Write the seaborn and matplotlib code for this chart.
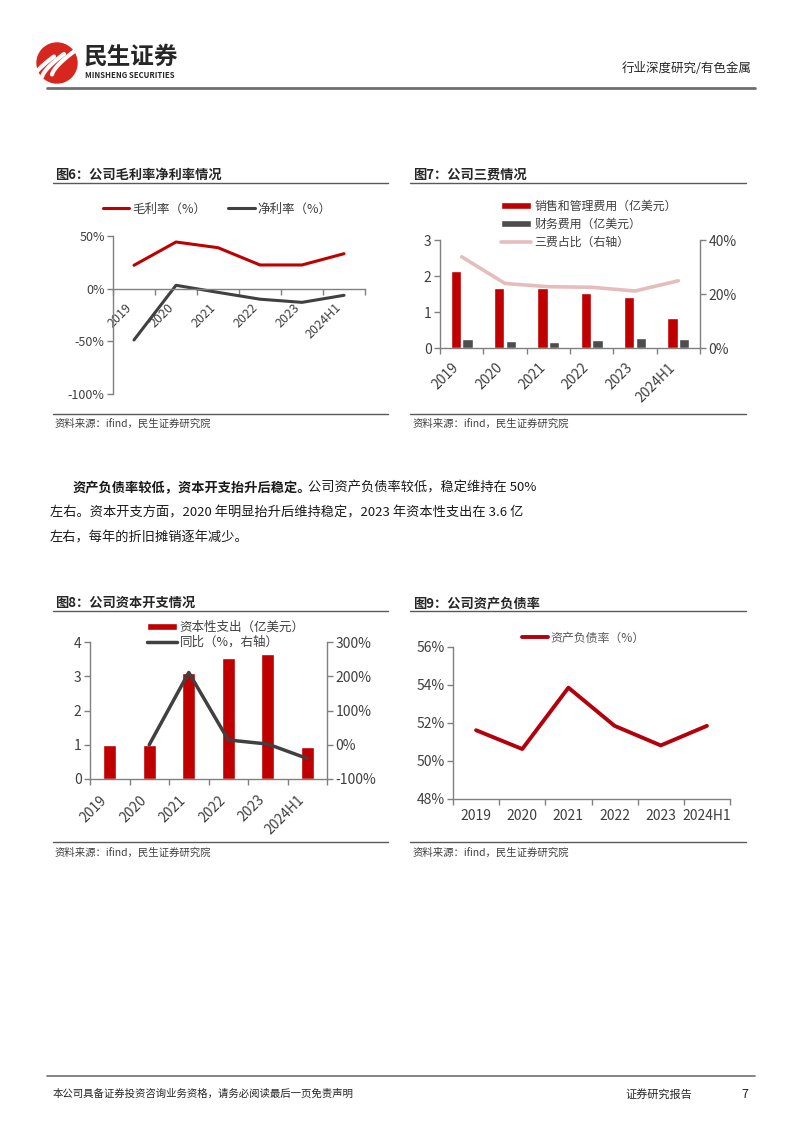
import numpy as np
import pandas as pd
import matplotlib
matplotlib.use("Agg")
import matplotlib.pyplot as plt
import seaborn as sns
from matplotlib.patches import Circle
from matplotlib.lines import Line2D

sns.set_theme(style="ticks")
plt.rcParams["font.family"] = ["Noto Sans CJK SC", "DejaVu Sans"]
plt.rcParams["axes.unicode_minus"] = False

years = ["2019", "2020", "2021", "2022", "2023", "2024H1"]

# fig 6: margins, %
gross_margin = [22.2, 44.3, 38.9, 22.5, 22.5, 33.2]
net_margin = [-48.7, 3.2, -3.5, -10.0, -13.0, -6.3]

# fig 7: expenses, 100m USD / ratio %
sga_cost = [2.15, 1.66, 1.66, 1.52, 1.43, 0.82]
fin_cost = [0.24, 0.20, 0.17, 0.23, 0.29, 0.25]
cost_ratio = [33.8, 23.9, 22.7, 22.5, 21.1, 24.9]

# fig 8: capex, 100m USD / yoy %
capex = [1.00, 1.00, 3.10, 3.53, 3.66, 0.93]
capex_yoy = [np.nan, 0.0, 211.0, 14.0, 2.0, -40.0]

# fig 9: debt ratio %
debt_ratio = [51.62, 50.63, 53.86, 51.85, 50.82, 51.85]

RED = "#C00000"
DRED = "#B3000C"
DGRAY = "#404040"
PINK = "#E6BDBD"
SPINE = "#808080"
TXT = "#404040"

W, H = 802, 1133
fig = plt.figure(figsize=(W / 100, H / 100), dpi=100, facecolor="white")


def px_axes(x0, y0, x1, y1):
    return fig.add_axes([x0 / W, 1 - y1 / H, (x1 - x0) / W, (y1 - y0) / H])


def ftext(x, y, s, **kw):
    kw.setdefault("va", "center")
    return fig.text(x / W, 1 - y / H, s, **kw)


def hline(x0, x1, y, color="#7f7f7f", lw=1.0):
    fig.add_artist(Line2D([x0 / W, x1 / W], [1 - y / H, 1 - y / H],
                          transform=fig.transFigure, color=color, lw=lw))


def style_ax(ax, fs=9):
    for s in ["top", "right"]:
        ax.spines[s].set_visible(False)
    for s in ["left", "bottom"]:
        ax.spines[s].set_color(SPINE)
        ax.spines[s].set_linewidth(1)
    ax.set_xlabel("")
    ax.set_ylabel("")
    ax.tick_params(axis="y", length=4, width=1, color=SPINE, labelsize=fs,
                   labelcolor=TXT, pad=2)
    ax.tick_params(axis="x", which="major", length=0, labelsize=fs,
                   labelcolor=TXT)
    ax.set_xticks(np.arange(-0.5, len(years), 1), minor=True)
    ax.tick_params(axis="x", which="minor", length=4, width=1, color=SPINE)
    ax.set_xlim(-0.5, len(years) - 0.5)
    ax.set_facecolor("none")


def style_twin(ax, fs=9):
    for s in ["top", "left", "bottom"]:
        ax.spines[s].set_visible(False)
    ax.spines["right"].set_color(SPINE)
    ax.spines["right"].set_linewidth(1)
    ax.set_ylabel("")
    ax.tick_params(axis="y", length=4, width=1, color=SPINE, labelsize=fs,
                   labelcolor=TXT, pad=2)


pos = np.arange(len(years))

# ---------------- header ----------------
logo = px_axes(36, 42, 78, 84)
logo.set_xlim(-1.05, 1.05)
logo.set_ylim(-1.05, 1.05)
logo.set_aspect("equal")
logo.axis("off")
logo.add_patch(Circle((0, 0), 1, color="#D7261E", clip_on=False))
t = np.linspace(0, 1, 30)
for off in [-0.5, 0.0, 0.5]:
    xs = -0.75 + off + 1.1 * t
    ys = -0.7 + 1.15 * t ** 0.7 + off * 0.25
    logo.plot(xs, ys, color="white", lw=3.0, solid_capstyle="round", clip_on=True)
ftext(84, 57, "民生证券", fontsize=17, weight="bold", color="#262626")
ftext(85, 75, "MINSHENG SECURITIES", fontsize=5.6, weight="bold", color="#262626")
ftext(752, 68, "行业深度研究/有色金属", fontsize=9, color="#262626", ha="right")
hline(47, 755, 88, color="#6f6f6f", lw=2)

# ---------------- fig 6 ----------------
ftext(55, 175, "图6：公司毛利率净利率情况", fontsize=9.5, weight="bold", color="#262626")
hline(53, 388, 183, color="#595959")
ax6 = px_axes(113, 236, 365, 394)
sns.lineplot(x=pos, y=gross_margin, color=RED, lw=2.2, ax=ax6)
sns.lineplot(x=pos, y=net_margin, color=DGRAY, lw=2.2, ax=ax6)
style_ax(ax6, fs=9)
ax6.set_ylim(-100, 50)
ax6.spines["bottom"].set_position(("data", 0))
ax6.set_yticks([-100, -50, 0, 50])
ax6.set_yticklabels([f"{v}%" for v in [-100, -50, 0, 50]])
ax6.set_xticks(pos)
ax6.set_xticklabels(years, rotation=45, ha="right")
ax6.tick_params(axis="x", which="major", pad=9)
l6 = ax6.get_lines()
ax6.legend([l6[0], l6[1]], ["毛利率（%）", "净利率（%）"], loc="center",
           bbox_to_anchor=(217 / W, 1 - 209 / H), bbox_transform=fig.transFigure,
           ncol=2, frameon=False, fontsize=9, handlelength=2.1,
           columnspacing=1.8, handletextpad=0.2, labelcolor=TXT)
hline(53, 388, 414, color="#595959")
ftext(55, 424, "资料来源：ifind，民生证券研究院", fontsize=7.5, color=TXT)

# ---------------- fig 7 ----------------
ftext(413, 175, "图7：公司三费情况", fontsize=9.5, weight="bold", color="#262626")
hline(410, 746, 183, color="#595959")
ax7 = px_axes(440, 240, 700, 348)
df7 = pd.DataFrame({
    "year": years * 2,
    "value": sga_cost + fin_cost,
    "kind": ["销售和管理费用（亿美元）"] * len(years) + ["财务费用（亿美元）"] * len(years),
})
sns.barplot(data=df7, x="year", y="value", hue="kind", palette=[RED, "#4D4D4D"],
            saturation=1, width=0.54, gap=0.12, ax=ax7)
if ax7.get_legend() is not None:
    ax7.get_legend().remove()
style_ax(ax7, fs=10)
ax7.set_ylim(0, 3)
ax7.set_yticks([0, 1, 2, 3])
ax7.set_xticks(pos)
ax7.set_xticklabels(years, rotation=45, ha="right")
ax7.tick_params(axis="x", which="major", pad=9)
ax7b = ax7.twinx()
sns.lineplot(x=pos, y=cost_ratio, color=PINK, lw=2.6, ax=ax7b)
style_twin(ax7b, fs=10)
ax7b.set_ylim(0, 40)
ax7b.set_yticks([0, 20, 40])
ax7b.set_yticklabels([f"{v}%" for v in [0, 20, 40]])
ax7.set_xlim(-0.5, len(years) - 0.5)
ax7b.legend([ax7.containers[0], ax7.containers[1], ax7b.get_lines()[0]],
            ["销售和管理费用（亿美元）", "财务费用（亿美元）", "三费占比（右轴）"],
            loc="center left", bbox_to_anchor=(495 / W, 1 - 224 / H),
            bbox_transform=fig.transFigure, frameon=False, fontsize=8.6,
            handlelength=2.5, handleheight=0.55, labelspacing=0.42,
            handletextpad=0.3, borderpad=0, labelcolor=TXT)
hline(410, 746, 414, color="#595959")
ftext(413, 424, "资料来源：ifind，民生证券研究院", fontsize=7.5, color=TXT)

# ---------------- body text ----------------
fig.canvas.draw()
renderer = fig.canvas.get_renderer()
tb = ftext(73, 488, "资产负债率较低，资本开支抬升后稳定。", fontsize=9.5,
           weight="bold", color="#1a1a1a")
bb = tb.get_window_extent(renderer=renderer)
ftext(bb.x1 - 3, 488, "公司资产负债率较低，稳定维持在 50%", fontsize=9.5, color="#1a1a1a")
ftext(50, 513, "左右。资本开支方面，2020 年明显抬升后维持稳定，2023 年资本性支出在 3.6 亿",
      fontsize=9.5, color="#1a1a1a")
ftext(50, 538, "左右，每年的折旧摊销逐年减少。", fontsize=9.5, color="#1a1a1a")

# ---------------- fig 8 ----------------
ftext(55, 603, "图8：公司资本开支情况", fontsize=9.5, weight="bold", color="#262626")
hline(53, 388, 611, color="#595959")
ax8 = px_axes(90, 642, 327, 779)
sns.barplot(x=years, y=capex, color=RED, saturation=1, width=0.33, ax=ax8)
style_ax(ax8, fs=10)
ax8.set_ylim(0, 4)
ax8.set_yticks([0, 1, 2, 3, 4])
ax8.set_xticks(pos)
ax8.set_xticklabels(years, rotation=45, ha="right")
ax8.tick_params(axis="x", which="major", pad=10)
ax8b = ax8.twinx()
sns.lineplot(x=pos, y=capex_yoy, color=DGRAY, lw=2.5, ax=ax8b)
style_twin(ax8b, fs=10)
ax8b.set_ylim(-100, 300)
ax8b.set_yticks([-100, 0, 100, 200, 300])
ax8b.set_yticklabels([f"{v}%" for v in [-100, 0, 100, 200, 300]])
ax8.set_xlim(-0.5, len(years) - 0.5)
ax8b.legend([ax8.containers[0], ax8b.get_lines()[0]],
            ["资本性支出（亿美元）", "同比（%，右轴）"],
            loc="center left", bbox_to_anchor=(141 / W, 1 - 635 / H),
            bbox_transform=fig.transFigure, frameon=False, fontsize=9,
            handlelength=2.4, handleheight=0.55, labelspacing=0.15,
            handletextpad=0.2, borderpad=0, labelcolor=TXT)
hline(53, 388, 842, color="#595959")
ftext(55, 853, "资料来源：ifind，民生证券研究院", fontsize=7.5, color=TXT)

# ---------------- fig 9 ----------------
ftext(413, 603, "图9：公司资产负债率", fontsize=9.5, weight="bold", color="#262626")
hline(410, 746, 611, color="#595959")
ax9 = px_axes(453, 647, 730, 799)
sns.lineplot(x=pos, y=debt_ratio, color=DRED, lw=2.8, ax=ax9)
style_ax(ax9, fs=10)
ax9.set_ylim(48, 56)
ax9.set_yticks([48, 50, 52, 54, 56])
ax9.set_yticklabels([f"{v}%" for v in [48, 50, 52, 54, 56]])
ax9.set_xticks(pos)
ax9.set_xticklabels(years)
ax9.tick_params(axis="x", which="major", pad=7)
ax9.legend([ax9.get_lines()[0]], ["资产负债率（%）"], loc="center left",
           bbox_to_anchor=(516 / W, 1 - 638 / H), bbox_transform=fig.transFigure,
           frameon=False, fontsize=8.6, handlelength=2.2, handletextpad=0.2,
           borderpad=0, labelcolor="#595959")
hline(410, 746, 842, color="#595959")
ftext(413, 853, "资料来源：ifind，民生证券研究院", fontsize=7.5, color=TXT)

# ---------------- footer ----------------
hline(47, 755, 1076, color="#6f6f6f", lw=1.2)
ftext(53, 1094, "本公司具备证券投资咨询业务资格，请务必阅读最后一页免责声明",
      fontsize=7.5, color="#262626")
ftext(625, 1094, "证券研究报告", fontsize=8, color="#262626")
ftext(745, 1094, "7", fontsize=9, color="#262626", ha="center")

fig.savefig("out.png", dpi=100, facecolor="white")
